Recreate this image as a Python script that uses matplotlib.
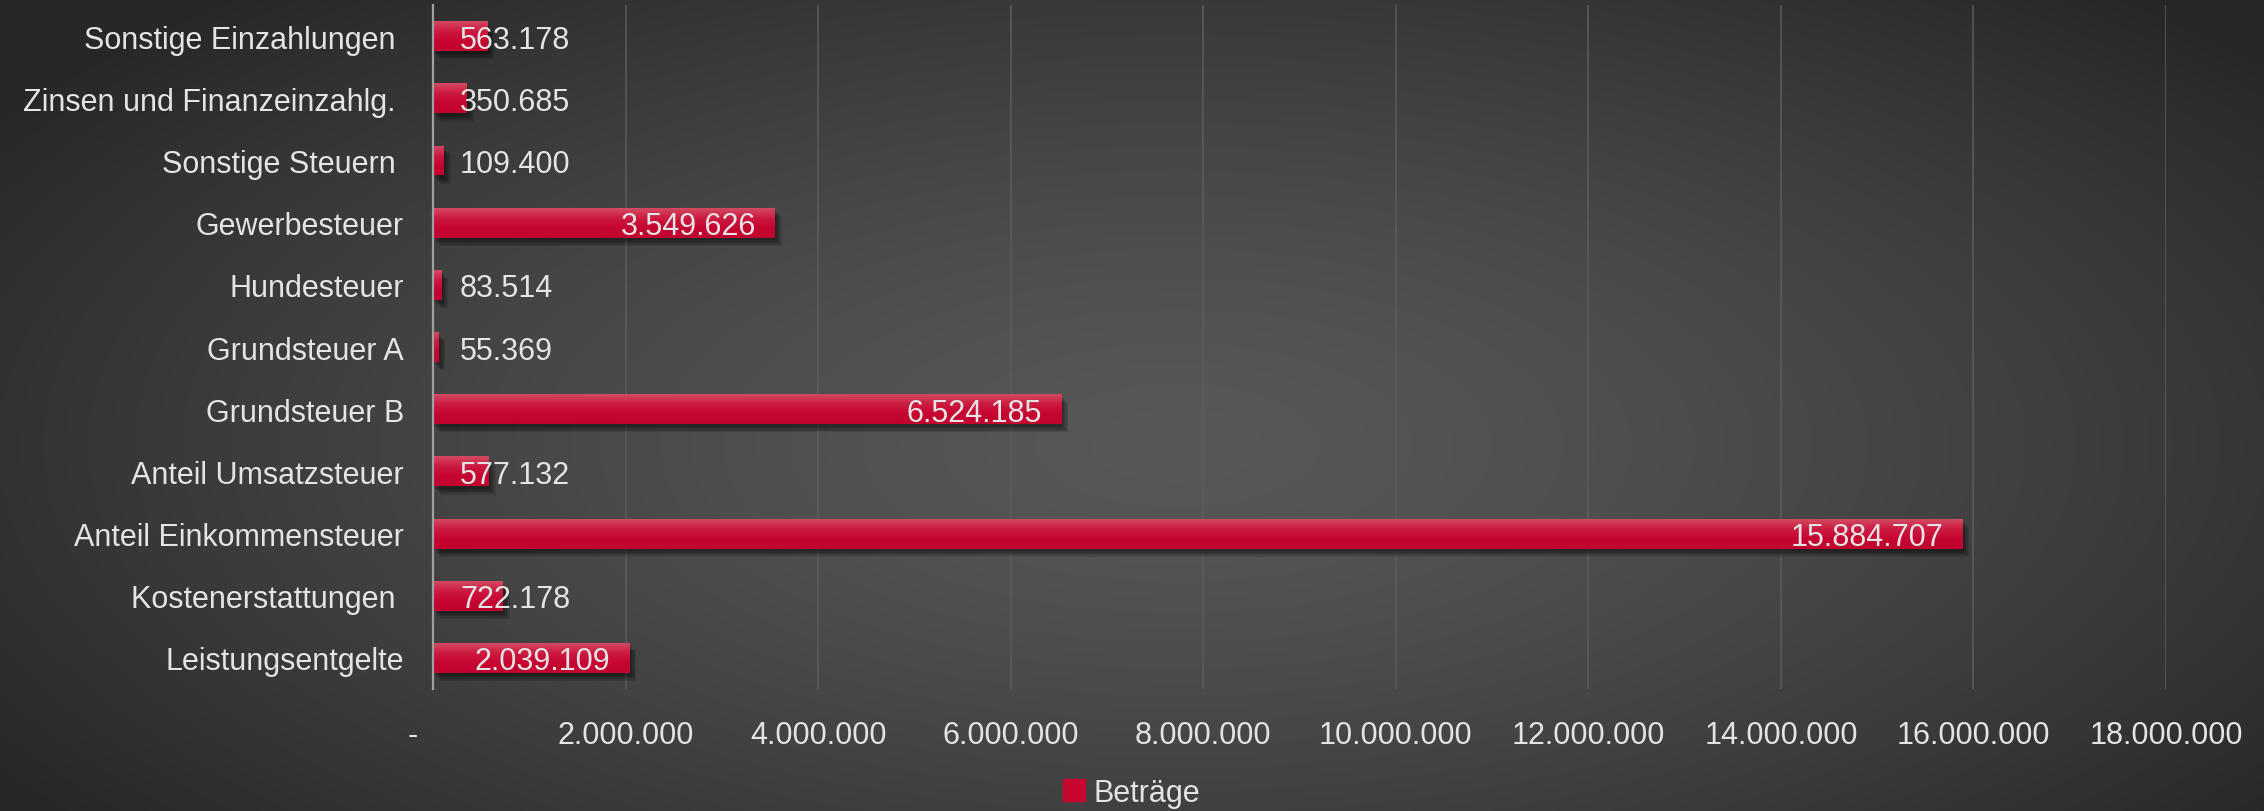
import numpy as np
import matplotlib
matplotlib.use("Agg")
import matplotlib.pyplot as plt
import matplotlib.patheffects as pe
from matplotlib.colors import LinearSegmentedColormap
from matplotlib.patches import Patch
from matplotlib.transforms import ScaledTranslation

# data (top to bottom as shown)
categories = [
    "Sonstige Einzahlungen ",
    "Zinsen und Finanzeinzahlg. ",
    "Sonstige Steuern ",
    "Gewerbesteuer",
    "Hundesteuer",
    "Grundsteuer A",
    "Grundsteuer B",
    "Anteil Umsatzsteuer",
    "Anteil Einkommensteuer",
    "Kostenerstattungen ",
    "Leistungsentgelte",
]
values = [563178, 350685, 109400, 3549626, 83514, 55369, 6524185,
          577132, 15884707, 722178, 2039109]
series_name = "Beträge"
x_ticks = [0, 2000000, 4000000, 6000000, 8000000, 10000000,
           12000000, 14000000, 16000000, 18000000]

TEXT = "#e4e4e4"
BAR = "#c8072f"
FONT = 22


def de_fmt(v):
    return "-" if v == 0 else f"{v:,.0f}".replace(",", ".")


plt.rcParams["font.family"] = ["Liberation Sans", "DejaVu Sans"]

fig = plt.figure(figsize=(22.64, 8.12), dpi=100)

# radial background
bg = fig.add_axes([0, 0, 1, 1], zorder=-10)
yy, xx = np.mgrid[0:1:400j, 0:1:1100j]
d = np.sqrt(((xx - 0.52) / 0.62) ** 2 + ((yy - 0.55) / 0.75) ** 2)
d = np.clip(d, 0, 1)
shade = 0.345 - 0.19 * d ** 1.4
bg.imshow(np.dstack([shade] * 3), aspect="auto", extent=[0, 1, 0, 1])
bg.axis("off")

ax = fig.add_axes([0.1913, 0.1502, 0.7654, 0.8424])
ax.set_facecolor("none")

ypos = np.arange(len(categories))
h = 0.48
# soft shadow: a few stacked faint offsets
shadow = [pe.SimplePatchShadow(offset=(o, -o - 1), shadow_rgbFace="black", alpha=0.12)
          for o in (1, 2, 3, 4, 5)]
bars = ax.barh(ypos, values, height=h, color=BAR, zorder=3,
               path_effects=shadow + [pe.Normal()])

# vertical sheen on each bar
grad = np.linspace(0, 1, 64).reshape(-1, 1)
cm = LinearSegmentedColormap.from_list("bar", ["#d44a62", "#cc1a40", "#c60530", "#c20330"])
for b in bars:
    im = ax.imshow(grad, cmap=cm, aspect="auto", zorder=4,
                   extent=[b.get_x(), b.get_x() + b.get_width(),
                           b.get_y() + b.get_height(), b.get_y()])
    im.set_clip_path(b)

ax.set_xlim(0, 18000000)
ax.set_ylim(len(categories) - 0.5, -0.5)
ax.set_yticks(ypos)
ax.set_yticklabels(categories, fontsize=FONT, color=TEXT)
ax.set_xticks(x_ticks)
ax.set_xticklabels([de_fmt(v) for v in x_ticks], fontsize=FONT, color=TEXT)
ax.tick_params(axis="both", length=0)
ax.tick_params(axis="y", pad=21)
ax.tick_params(axis="x", pad=22)
# zero label sits a bit left of the axis
zl = ax.get_xticklabels()[0]
zl.set_transform(zl.get_transform() + ScaledTranslation(-0.2, 0, fig.dpi_scale_trans))

ax.grid(axis="x", color="#5c5c5c", lw=1.1, zorder=0)
for s in ["top", "right", "bottom"]:
    ax.spines[s].set_visible(False)
ax.spines["left"].set_color("#a0a0a0")
ax.spines["left"].set_linewidth(1.6)
ax.spines["left"].set_zorder(5)

# data labels: inside end, or next to the axis for short bars
for y, v in zip(ypos, values):
    if v > 1500000:
        ax.annotate(de_fmt(v), (v, y), xytext=(-19, 0), textcoords="offset pixels",
                    ha="right", va="center_baseline", fontsize=FONT, color=TEXT, zorder=6)
    else:
        ax.annotate(de_fmt(v), (0, y), xytext=(27, 0), textcoords="offset pixels",
                    ha="left", va="center_baseline", fontsize=FONT, color=TEXT, zorder=6)

leg = fig.legend([Patch(color=BAR)], [series_name], loc="lower center",
                 bbox_to_anchor=(0.5, -0.03), frameon=False, fontsize=FONT,
                 handlelength=0.7, handleheight=0.7, handletextpad=0.3, labelcolor=TEXT)

fig.savefig("out.png", dpi=100)
